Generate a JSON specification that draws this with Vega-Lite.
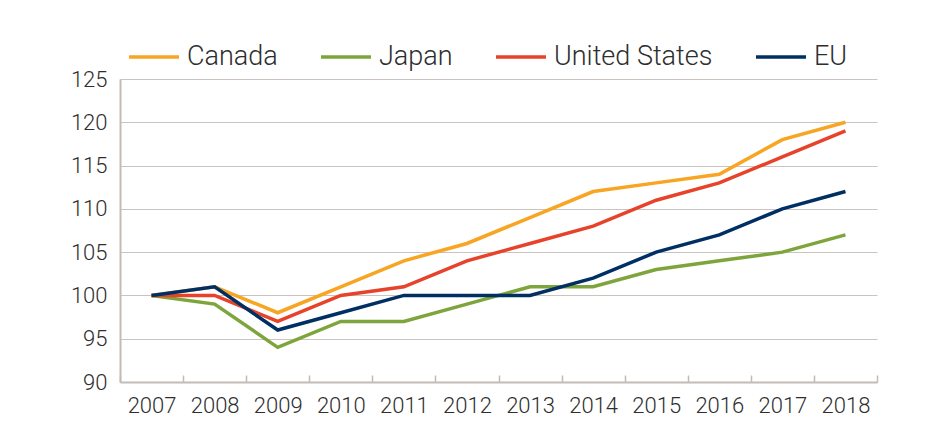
{
  "$schema": "https://vega.github.io/schema/vega-lite/v6.json",
  "autosize": "none",
  "width": 757,
  "height": 303,
  "padding": {"left": 120, "top": 79, "right": 53, "bottom": 59},
  "background": "#ffffff",
  "config": {
    "font": "Roboto",
    "view": {"stroke": null},
    "axis": {"labelFont": "Roboto", "labelFontSize": 22, "labelFontWeight": 300, "labelColor": "#2e2e2e", "gridColor": "#cbc3bf", "domainColor": "#c3bbb7", "tickColor": "#c3bbb7", "domainWidth": 2, "gridWidth": 1.2}
  },
  "data": {
    "values": [
      {"year": "2007", "country": "Canada", "v": 100},
      {"year": "2008", "country": "Canada", "v": 101},
      {"year": "2009", "country": "Canada", "v": 98},
      {"year": "2010", "country": "Canada", "v": 101},
      {"year": "2011", "country": "Canada", "v": 104},
      {"year": "2012", "country": "Canada", "v": 106},
      {"year": "2013", "country": "Canada", "v": 109},
      {"year": "2014", "country": "Canada", "v": 112},
      {"year": "2015", "country": "Canada", "v": 113},
      {"year": "2016", "country": "Canada", "v": 114},
      {"year": "2017", "country": "Canada", "v": 118},
      {"year": "2018", "country": "Canada", "v": 120},
      {"year": "2007", "country": "Japan", "v": 100},
      {"year": "2008", "country": "Japan", "v": 99},
      {"year": "2009", "country": "Japan", "v": 94},
      {"year": "2010", "country": "Japan", "v": 97},
      {"year": "2011", "country": "Japan", "v": 97},
      {"year": "2012", "country": "Japan", "v": 99},
      {"year": "2013", "country": "Japan", "v": 101},
      {"year": "2014", "country": "Japan", "v": 101},
      {"year": "2015", "country": "Japan", "v": 103},
      {"year": "2016", "country": "Japan", "v": 104},
      {"year": "2017", "country": "Japan", "v": 105},
      {"year": "2018", "country": "Japan", "v": 107},
      {"year": "2007", "country": "United States", "v": 100},
      {"year": "2008", "country": "United States", "v": 100},
      {"year": "2009", "country": "United States", "v": 97},
      {"year": "2010", "country": "United States", "v": 100},
      {"year": "2011", "country": "United States", "v": 101},
      {"year": "2012", "country": "United States", "v": 104},
      {"year": "2013", "country": "United States", "v": 106},
      {"year": "2014", "country": "United States", "v": 108},
      {"year": "2015", "country": "United States", "v": 111},
      {"year": "2016", "country": "United States", "v": 113},
      {"year": "2017", "country": "United States", "v": 116},
      {"year": "2018", "country": "United States", "v": 119},
      {"year": "2007", "country": "EU", "v": 100},
      {"year": "2008", "country": "EU", "v": 101},
      {"year": "2009", "country": "EU", "v": 96},
      {"year": "2010", "country": "EU", "v": 98},
      {"year": "2011", "country": "EU", "v": 100},
      {"year": "2012", "country": "EU", "v": 100},
      {"year": "2013", "country": "EU", "v": 100},
      {"year": "2014", "country": "EU", "v": 102},
      {"year": "2015", "country": "EU", "v": 105},
      {"year": "2016", "country": "EU", "v": 107},
      {"year": "2017", "country": "EU", "v": 110},
      {"year": "2018", "country": "EU", "v": 112}
    ]
  },
  "mark": {"type": "line", "strokeWidth": 3.5, "strokeJoin": "miter"},
  "encoding": {
    "x": {
      "field": "year", "type": "ordinal", "title": null,
      "scale": {"paddingInner": 0, "paddingOuter": 0},
      "axis": {"labelAngle": 0, "grid": false, "tickSize": -7, "tickWidth": 1.5, "tickBand": "extent", "labelPadding": 20, "labelBaseline": "top"}
    },
    "y": {
      "field": "v", "type": "quantitative", "title": null,
      "scale": {"domain": [90, 125], "nice": false, "zero": false},
      "axis": {"values": [90, 95, 100, 105, 110, 115, 120, 125], "tickSize": 0, "labelPadding": 13}
    },
    "color": {
      "field": "country", "type": "nominal", "title": null,
      "scale": {"domain": ["Canada", "Japan", "United States", "EU"], "range": ["#f7a522", "#7ea53c", "#e6432a", "#002f63"]},
      "legend": {
        "orient": "none", "legendX": 7, "legendY": -49, "direction": "horizontal", "columns": 4,
        "symbolType": "stroke", "symbolSize": 2500, "symbolStrokeWidth": 3.5,
        "labelFontSize": 27, "labelFontWeight": 300, "labelColor": "#2e2e2e", "labelOffset": 6, "columnPadding": 36,
        "labelLimit": 400
      }
    }
  }
}
